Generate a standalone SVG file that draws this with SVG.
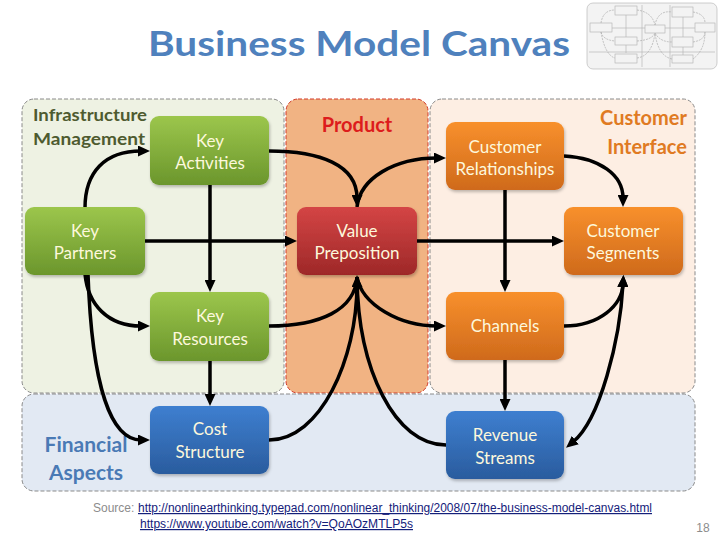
<svg xmlns="http://www.w3.org/2000/svg" width="720" height="540" viewBox="0 0 720 540">
<defs>
<linearGradient id="gGreen" x1="0" y1="0" x2="0" y2="1"><stop offset="0" stop-color="#9cc64c"/><stop offset="1" stop-color="#6b962c"/></linearGradient>
<linearGradient id="gRed" x1="0" y1="0" x2="0" y2="1"><stop offset="0" stop-color="#d44545"/><stop offset="1" stop-color="#9e2828"/></linearGradient>
<linearGradient id="gOrange" x1="0" y1="0" x2="0" y2="1"><stop offset="0" stop-color="#f8902c"/><stop offset="1" stop-color="#cf6a1c"/></linearGradient>
<linearGradient id="gBlue" x1="0" y1="0" x2="0" y2="1"><stop offset="0" stop-color="#3e7fd0"/><stop offset="1" stop-color="#2a5c9e"/></linearGradient>
<filter id="sh" x="-10%" y="-10%" width="130%" height="130%"><feDropShadow dx="1" dy="2" stdDeviation="1.5" flood-color="#000" flood-opacity="0.25"/></filter>
<marker id="ah" viewBox="0 0 12 11" refX="3" refY="5.5" markerWidth="12" markerHeight="11" markerUnits="userSpaceOnUse" orient="auto-start-reverse"><path d="M0,0 L12,5.5 L0,11 z" fill="#000"/></marker>
<style>
.panel{stroke:#8a8a8a;stroke-width:1;stroke-dasharray:4 2}
.node text{font-family:Lato,"Liberation Sans",sans-serif;font-size:17px;fill:#fdf8dc;text-anchor:middle}
.node rect{filter:url(#sh)}
.conn path{fill:none;stroke:#000;stroke-width:3.5}
.arr{marker-end:url(#ah)}
.hdr{font-family:Lato,"Liberation Sans",sans-serif;font-weight:bold}
.src{font-family:"Liberation Sans",Arial,sans-serif;font-size:12px}
.th rect{fill:#f3f3f3;stroke:#b0b0b0;stroke-width:0.6}
</style>
</defs>
<rect width="720" height="540" fill="#fff"/>
<text x="359" y="56" class="hdr" font-size="35" fill="#4f81bd" text-anchor="middle" textLength="422" lengthAdjust="spacingAndGlyphs">Business Model Canvas</text>
<g id="thumbnail" class="th">
<rect x="587" y="3" width="130" height="66" rx="6" fill="#fff" stroke="#e0e0e0"/>
<path d="M642,5 V67 M670,5 V67 M589,52 H715 M601,28 H705 M626,15 V53 M683,17 V55" stroke="#b8b8b8" stroke-width="0.7" fill="none"/>
<path d="M601,23 Q603,10 615,10 M601,32 Q603,40 615,41 M601,32 Q605,55 615,58 M637,10 Q652,12 655,25 M655,25 Q658,10 672,12 M693,12 Q705,14 705,23 M637,41 Q652,40 655,33 M655,33 Q660,42 672,42 M693,42 Q705,40 705,32 M637,58 Q652,56 655,33 M672,59 Q658,56 655,33 M693,59 Q705,50 705,32" stroke="#aaa" stroke-width="0.7" stroke-dasharray="2 1" fill="none"/>
<rect x="615" y="6" width="22" height="9"/>
<rect x="590" y="23" width="22" height="9"/>
<rect x="615" y="37" width="22" height="8"/>
<rect x="615" y="54" width="22" height="9"/>
<rect x="645" y="25" width="20" height="8"/>
<rect x="672" y="7" width="21" height="10"/>
<rect x="695" y="23" width="20" height="9"/>
<rect x="672" y="37" width="21" height="10"/>
<rect x="672" y="55" width="21" height="8"/>
</g>
<g id="panels">
<rect id="infra-panel" class="panel" x="22" y="99" width="262" height="294" rx="12" fill="#eef2e3"/>
<rect id="product-panel" x="286" y="99" width="142" height="294" rx="12" fill="#f1b383" stroke="#d23a2a" stroke-width="1" stroke-dasharray="4 2"/>
<rect id="ci-panel" class="panel" x="430" y="99" width="265" height="294" rx="12" fill="#fdeee3"/>
<rect id="fin-panel" class="panel" x="22" y="394" width="673" height="97" rx="12" fill="#e2e9f3"/>
</g>
<g id="panel-titles">
<text class="hdr" x="33" y="121" font-size="17" fill="#4e5b30" textLength="114" lengthAdjust="spacingAndGlyphs">Infrastructure</text>
<text class="hdr" x="33" y="145" font-size="17" fill="#4e5b30" textLength="112" lengthAdjust="spacingAndGlyphs">Management</text>
<text class="hdr" x="357" y="132" font-size="20" fill="#dd1c1c" text-anchor="middle">Product</text>
<text class="hdr" x="687" y="125" font-size="20" fill="#e07a22" text-anchor="end">Customer</text>
<text class="hdr" x="687" y="154" font-size="20" fill="#e07a22" text-anchor="end">Interface</text>
<text class="hdr" x="86" y="452" font-size="21" fill="#4a7ab5" text-anchor="middle">Financial</text>
<text class="hdr" x="86" y="480" font-size="21" fill="#4a7ab5" text-anchor="middle">Aspects</text>
</g>
<g id="connectors" class="conn">
<path class="arr" d="M85,208 C85,172 105,151 141,151"/>
<path class="arr" d="M85,274 C88,305 108,326 141,326"/>
<path class="arr" d="M88,274 C92,390 112,440 141,440"/>
<path class="arr" d="M145,241 H288"/>
<path class="arr" d="M210,185 V283"/>
<path class="arr" d="M210,361 V397"/>
<path class="arr" d="M269,151 C320,151 357,165 357,198"/>
<path class="arr" d="M357,207 C360,178 395,158 437,158"/>
<path class="arr" d="M417,241 H555"/>
<path class="arr" d="M505,190 V283"/>
<path class="arr" d="M564,156 C600,158 623,175 623,198"/>
<path d="M269,326 C320,326 355,310 357,277"/>
<path class="arr" d="M269,440 C320,440 357,360 357,284"/>
<path class="arr" d="M357,277 C362,305 400,326 437,326"/>
<path d="M446,445 C395,445 358,370 357,277"/>
<path class="arr" d="M564,326 C600,326 622,305 623,284"/>
<path class="arr" d="M573,442 C600,420 620,340 623,284" marker-start="url(#ah)"/>
<path class="arr" d="M505,360 V402"/>
</g>
<g id="key-activities" class="node"><rect x="150" y="116" width="119" height="69" rx="9" fill="url(#gGreen)"/><text x="210" y="147">Key</text><text x="210" y="169">Activities</text></g>
<g id="key-partners" class="node"><rect x="25" y="207" width="120" height="68" rx="9" fill="url(#gGreen)"/><text x="85" y="237">Key</text><text x="85" y="259">Partners</text></g>
<g id="key-resources" class="node"><rect x="150" y="292" width="119" height="69" rx="9" fill="url(#gGreen)"/><text x="210" y="322">Key</text><text x="210" y="345">Resources</text></g>
<g id="cost-structure" class="node"><rect x="150" y="406" width="119" height="68" rx="9" fill="url(#gBlue)"/><text x="210" y="435">Cost</text><text x="210" y="458">Structure</text></g>
<g id="value-preposition" class="node"><rect x="297" y="207" width="120" height="68" rx="9" fill="url(#gRed)"/><text x="357" y="237">Value</text><text x="357" y="259">Preposition</text></g>
<g id="customer-relationships" class="node"><rect x="446" y="122" width="118" height="68" rx="9" fill="url(#gOrange)"/><text x="505" y="153">Customer</text><text x="505" y="175" font-size="15">Relationships</text></g>
<g id="customer-segments" class="node"><rect x="564" y="207" width="119" height="68" rx="9" fill="url(#gOrange)"/><text x="623" y="237">Customer</text><text x="623" y="259">Segments</text></g>
<g id="channels" class="node"><rect x="446" y="292" width="118" height="68" rx="9" fill="url(#gOrange)"/><text x="505" y="332">Channels</text></g>
<g id="revenue-streams" class="node"><rect x="446" y="411" width="118" height="68" rx="9" fill="url(#gBlue)"/><text x="505" y="441">Revenue</text><text x="505" y="464">Streams</text></g>
<g id="source">
<text class="src" x="93" y="512" fill="#8c8c8c">Source:</text>
<text class="src" x="138" y="512" fill="#14207a" text-decoration="underline" textLength="514" lengthAdjust="spacingAndGlyphs">http://nonlinearthinking.typepad.com/nonlinear_thinking/2008/07/the-business-model-canvas.html</text>
<text class="src" x="140" y="528" fill="#14207a" text-decoration="underline" textLength="273" lengthAdjust="spacingAndGlyphs">https://www.youtube.com/watch?v=QoAOzMTLP5s</text>
<text class="src" x="703" y="532" fill="#8c8c8c" font-size="11" text-anchor="middle">18</text>
</g>
</svg>
